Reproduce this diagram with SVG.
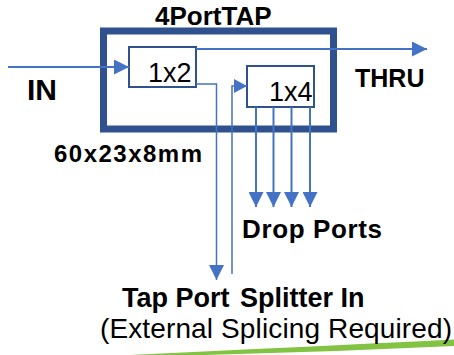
<svg xmlns="http://www.w3.org/2000/svg" width="454" height="355" viewBox="0 0 454 355">
<style>
.t{font-family:"Liberation Sans",Arial,sans-serif;fill:#000}
.b{font-weight:bold}
.box{fill:#fff;stroke:#2F528F}
.c{fill:none;stroke:#4472C4}
</style>
<defs>
<marker id="arr" markerUnits="userSpaceOnUse" markerWidth="15" markerHeight="15" refX="15" refY="7.5" orient="auto"><path d="M0,0 L15,7.5 L0,15 z" fill="#4472C4"/></marker>
<marker id="arrS" markerUnits="userSpaceOnUse" markerWidth="13" markerHeight="14" refX="13" refY="7" orient="auto"><path d="M0,0 L13,7 L0,14 z" fill="#4472C4"/></marker>
</defs>
<rect width="454" height="355" fill="#fff"/>
<path d="M130,355 Q300,347 454,339.5 L454,346 Q330,352 205,355 Z" fill="#82C341"/>
<g id="tap">
<rect class="box" x="103.5" y="31" width="230" height="98" stroke-width="7"/>
<text class="t b" x="155" y="25" font-size="26">4PortTAP</text>
</g>
<g id="s1x2">
<rect class="box" x="129" y="47" width="67" height="40" stroke-width="2"/>
<text class="t" x="148" y="82" font-size="27">1x2</text>
</g>
<g id="s1x4">
<rect class="box" x="247" y="66" width="67" height="41" stroke-width="2"/>
<text class="t" x="269" y="101" font-size="27">1x4</text>
</g>
<g id="connectors">
<line class="c" x1="8" y1="67" x2="129" y2="67" stroke-width="2" marker-end="url(#arr)"/>
<line class="c" x1="196" y1="49" x2="427" y2="49" stroke-width="2" marker-end="url(#arr)"/>
<polyline class="c" points="196,84 216.5,84 216.5,280" stroke-width="1.5" marker-end="url(#arr)"/>
<polyline class="c" points="232,274 232,86 247,86" stroke-width="1.5" marker-end="url(#arrS)"/>
<line class="c" x1="256" y1="107" x2="256" y2="207" stroke-width="2" marker-end="url(#arr)"/>
<line class="c" x1="273.5" y1="107" x2="273.5" y2="207" stroke-width="2" marker-end="url(#arr)"/>
<line class="c" x1="291.5" y1="107" x2="291.5" y2="207" stroke-width="2" marker-end="url(#arr)"/>
<line class="c" x1="310" y1="107" x2="310" y2="207" stroke-width="2" marker-end="url(#arr)"/>
</g>
<g id="labels">
<text class="t b" x="27" y="100" font-size="30">IN</text>
<text class="t b" x="355" y="87" font-size="25">THRU</text>
<text class="t b" x="54" y="162" font-size="24" textLength="148">60x23x8mm</text>
<text class="t b" x="242" y="238" font-size="26" textLength="140">Drop Ports</text>
<text class="t b" x="122" y="307" font-size="27">Tap Port</text>
<text class="t b" x="240" y="307" font-size="27">Splitter In</text>
<text class="t" x="100" y="338" font-size="28" textLength="352">(External Splicing Required)</text>
</g>
</svg>
